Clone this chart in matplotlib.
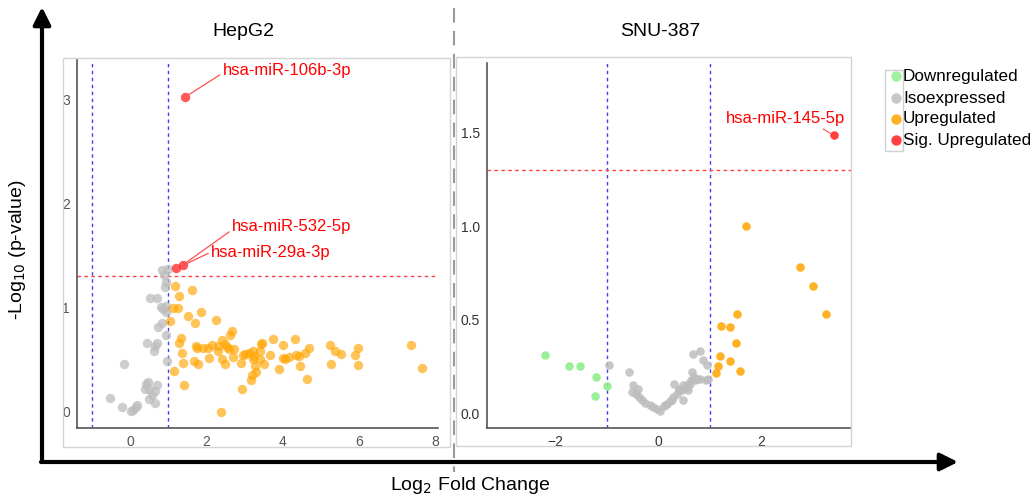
import numpy as np
import matplotlib
matplotlib.use("Agg")
import matplotlib.pyplot as plt
from matplotlib.patches import Rectangle, FancyArrowPatch
from matplotlib.lines import Line2D

plt.rcParams['font.family'] = ['Liberation Sans', 'DejaVu Sans']

# HepG2 volcano data (log2 FC, -log10 p)
hep_iso_x = [-0.53, -0.23, -0.17, 0.01, 0.07, 0.15, 0.17, 0.44, 0.63, 0.66, 0.71, 0.41, 0.46, 0.39,
             0.50, 0.71, 0.64, 0.50, 0.57, 0.64, 0.53, 0.69, 0.80, 0.87, 0.94, 0.94, 0.72, 0.83,
             0.95, 0.97, 0.83, 1.00, 0.88, 0.90, 0.94]
hep_iso_y = [0.13, 0.05, 0.46, 0.01, 0.02, 0.05, 0.07, 0.66, 0.58, 0.63, 0.66, 0.27, 0.29, 0.22,
             0.22, 0.26, 0.20, 0.12, 0.16, 0.09, 1.09, 1.09, 1.01, 0.99, 1.02, 0.96, 0.81, 0.85,
             0.74, 0.49, 1.36, 1.37, 1.31, 1.20, 1.25]
hep_up_x = [1.18, 1.62, 1.27, 1.11, 1.25, 1.85, 1.51, 2.25, 1.71, 1.03, 1.34, 1.29, 1.36, 1.38,
            1.14, 1.40, 1.73, 1.76, 1.91, 2.03, 2.14, 2.30, 2.29, 2.07, 1.67, 1.79, 2.42, 2.49,
            2.54, 2.62, 2.66, 2.60, 2.72, 2.42, 2.49, 2.69, 2.91, 2.97, 3.02, 3.11, 3.21, 3.26,
            3.21, 3.28, 3.31, 3.19, 3.17, 2.94, 2.37, 3.41, 3.43, 3.46, 3.40, 3.52, 3.68, 3.76,
            3.90, 4.02, 4.02, 4.07, 4.17, 4.33, 4.36, 4.42, 4.45, 4.59, 4.69, 4.65, 5.24, 5.38,
            5.52, 5.27, 5.91, 5.98, 5.98, 7.38, 7.65]
hep_up_y = [1.21, 1.17, 1.11, 1.00, 1.00, 0.96, 0.92, 0.88, 0.85, 0.87, 0.71, 0.66, 0.57, 0.47,
            0.39, 0.26, 0.63, 0.61, 0.61, 0.61, 0.64, 0.63, 0.58, 0.52, 0.49, 0.46, 0.69, 0.65,
            0.62, 0.74, 0.78, 0.60, 0.60, 0.51, 0.46, 0.53, 0.47, 0.55, 0.56, 0.57, 0.58, 0.54,
            0.51, 0.44, 0.38, 0.35, 0.31, 0.22, 0.00, 0.58, 0.65, 0.66, 0.51, 0.46, 0.55, 0.70,
            0.41, 0.64, 0.52, 0.51, 0.53, 0.70, 0.55, 0.54, 0.44, 0.57, 0.61, 0.32, 0.64, 0.58,
            0.56, 0.46, 0.55, 0.61, 0.45, 0.64, 0.42]
hep_sig_x = [1.44, 1.38, 1.21]
hep_sig_y = [3.02, 1.41, 1.376]
hep_sig_names = ['hsa-miR-106b-3p', 'hsa-miR-532-5p', 'hsa-miR-29a-3p']
hep_label_xy = [(2.42, 3.27), (2.67, 1.775), (2.12, 1.526)]

# SNU-387 volcano data
snu_down_x = [-2.20, -1.74, -1.52, -1.20, -1.00, -1.23]
snu_down_y = [0.312, 0.253, 0.250, 0.194, 0.143, 0.091]
snu_iso_x = [-0.95, -0.57, -0.50, -0.39, -0.51, -0.43, -0.37, -0.32, -0.26, -0.16, -0.10, -0.02,
             0.03, 0.10, 0.16, 0.23, 0.29, 0.30, 0.36, 0.39, 0.45, 0.48, 0.54, 0.58, 0.48, 0.63,
             0.65, 0.69, 0.74, 0.81, 0.92, 0.67, 0.81, 0.87, 0.95, 0.13, 0.26, 0.40, 0.55, 0.61,
             0.71, 0.97, 0.58]
snu_iso_y = [0.258, 0.219, 0.152, 0.130, 0.112, 0.100, 0.086, 0.068, 0.053, 0.041, 0.032, 0.023,
             0.011, 0.036, 0.047, 0.064, 0.086, 0.157, 0.104, 0.130, 0.125, 0.148, 0.139, 0.157,
             0.068, 0.175, 0.219, 0.193, 0.184, 0.184, 0.175, 0.314, 0.332, 0.282, 0.255, 0.041,
             0.068, 0.121, 0.139, 0.157, 0.175, 0.180, 0.121]
snu_up_x = [1.70, 2.74, 3.00, 3.25, 1.52, 1.21, 1.39, 1.51, 1.19, 1.39, 1.16, 1.58, 1.11]
snu_up_y = [1.00, 0.78, 0.68, 0.53, 0.53, 0.465, 0.46, 0.374, 0.303, 0.276, 0.25, 0.223, 0.214]
snu_sig_x = [3.40]
snu_sig_y = [1.485]
snu_sig_names = ['hsa-miR-145-5p']
snu_label_xy = [(2.47, 1.574)]

categories = ['Downregulated', 'Isoexpressed', 'Upregulated', 'Sig. Upregulated']
colors = {'Downregulated': '#90ee90', 'Isoexpressed': '#bdbdbd',
          'Upregulated': '#ffa500', 'Sig. Upregulated': '#ff2020'}

W, H = 1036, 499
fig = plt.figure(figsize=(W / 100, H / 100), dpi=100)


def fx(px):
    return px / W


def fy(py):
    return 1 - py / H


def style_axes(ax, tick_color):
    for s in ['top', 'right']:
        ax.spines[s].set_visible(False)
    for s in ['left', 'bottom']:
        ax.spines[s].set_color('#555555')
        ax.spines[s].set_linewidth(1.2)
    ax.tick_params(length=0, labelsize=10, colors=tick_color, pad=5)


def guides(ax):
    ax.axvline(-1, color='#4040ff', lw=1, ls=(0, (2.5, 2.5)))
    ax.axvline(1, color='#4040ff', lw=1, ls=(0, (2.5, 2.5)))
    ax.axhline(-np.log10(0.05), color='#ff4040', lw=1, ls=(0, (2.5, 2.5)))


# panel frames and divider
fig.add_artist(Rectangle((fx(63), fy(447)), fx(450) - fx(63), fy(58) - fy(447),
                         transform=fig.transFigure, fill=False, ec='#d4d4d4', lw=1))
fig.add_artist(Rectangle((fx(456), fy(446)), fx(851) - fx(456), fy(57) - fy(446),
                         transform=fig.transFigure, fill=False, ec='#d4d4d4', lw=1))
fig.add_artist(Line2D([fx(454), fx(454)], [fy(8), fy(472)], transform=fig.transFigure,
                      color='#9a9a9a', lw=1.5, ls=(0, (7, 4))))

# HepG2
ax1 = fig.add_axes([fx(77), fy(428), fx(438) - fx(77), fy(60) - fy(428)])
ax1.set_xlim(-1.4, 8.08)
ax1.set_ylim(-0.154, 3.375)
guides(ax1)
ax1.scatter(hep_iso_x, hep_iso_y, s=46, color=colors['Isoexpressed'], alpha=0.75, lw=0, zorder=3)
ax1.scatter(hep_up_x, hep_up_y, s=46, color=colors['Upregulated'], alpha=0.65, lw=0, zorder=3)
ax1.scatter(hep_sig_x, hep_sig_y, s=46, color=colors['Sig. Upregulated'], alpha=0.75, lw=0, zorder=3)
rel = [(0, 0.35), (0, 0.3), (0, 0.55)]
for x, y, name, (tx, ty), rp in zip(hep_sig_x, hep_sig_y, hep_sig_names, hep_label_xy, rel):
    ax1.annotate(name, (x, y), xytext=(tx, ty), ha='left', va='center', color='red', fontsize=12,
                 arrowprops=dict(arrowstyle='-', color='#ff5050', lw=0.9, relpos=rp,
                                 shrinkA=0, shrinkB=3))
ax1.set_xticks([0, 2, 4, 6, 8])
ax1.set_yticks([0, 1, 2, 3])
style_axes(ax1, '#555555')

# SNU-387
ax2 = fig.add_axes([fx(487), fy(428), fx(851) - fx(487), fy(63) - fy(428)])
ax2.set_xlim(-3.32, 3.73)
ax2.set_ylim(-0.08, 1.872)
guides(ax2)
ax2.scatter(snu_down_x, snu_down_y, s=38, color=colors['Downregulated'], alpha=0.9, lw=0, zorder=3)
ax2.scatter(snu_iso_x, snu_iso_y, s=38, color=colors['Isoexpressed'], alpha=0.85, lw=0, zorder=3)
ax2.scatter(snu_up_x, snu_up_y, s=38, color=colors['Upregulated'], alpha=0.85, lw=0, zorder=3)
ax2.scatter(snu_sig_x, snu_sig_y, s=38, color=colors['Sig. Upregulated'], alpha=0.85, lw=0, zorder=3)
for x, y, name, (tx, ty) in zip(snu_sig_x, snu_sig_y, snu_sig_names, snu_label_xy):
    ax2.annotate(name, (x, y), xytext=(tx, ty), ha='center', va='center', color='red', fontsize=12,
                 arrowprops=dict(arrowstyle='-', color='#ff5050', lw=0.8, relpos=(0.75, 0.1),
                                 shrinkA=0, shrinkB=3))
ax2.set_xticks([-2, 0, 2])
ax2.set_yticks([0.0, 0.5, 1.0, 1.5])
ax2.set_yticklabels(['0.0', '0.5', '1.0', '1.5'])
style_axes(ax2, '#333333')

# titles
fig.text(fx(243), fy(32), 'HepG2', ha='center', va='center', fontsize=14)
fig.text(fx(660), fy(32), 'SNU-387', ha='center', va='center', fontsize=14)

# outer axis arrows
fig.add_artist(FancyArrowPatch((fx(42), fy(462)), (fx(42), fy(7)), transform=fig.transFigure,
                               arrowstyle='-|>,head_length=7,head_width=3.5', color='black',
                               lw=3, shrinkA=0, shrinkB=0, mutation_scale=1.5))
fig.add_artist(FancyArrowPatch((fx(41), fy(462)), (fx(958), fy(462)), transform=fig.transFigure,
                               arrowstyle='-|>,head_length=7,head_width=3.5', color='black',
                               lw=3, shrinkA=0, shrinkB=0, mutation_scale=1.5))
fig.text(fx(18), fy(250), '-Log$_{10}$ (p-value)', rotation=90, ha='center', va='center', fontsize=14)
fig.text(fx(470), fy(485), 'Log$_2$ Fold Change', ha='center', va='center', fontsize=14)

# legend
fig.add_artist(Rectangle((fx(885), fy(151)), fx(903) - fx(885), fy(70) - fy(151),
                         transform=fig.transFigure, fill=False, ec='#d0d0d0', lw=1))
leg_y = [76, 98, 119, 140]
for cat, py in zip(categories, leg_y):
    fig.add_artist(Line2D([fx(896)], [fy(py)], transform=fig.transFigure, marker='o', ms=7.5,
                          color=colors[cat], alpha=0.85, mec='none'))
    fig.text(fx(903), fy(py), cat, ha='left', va='center', fontsize=12.3)

fig.savefig('out.png', dpi=100)
